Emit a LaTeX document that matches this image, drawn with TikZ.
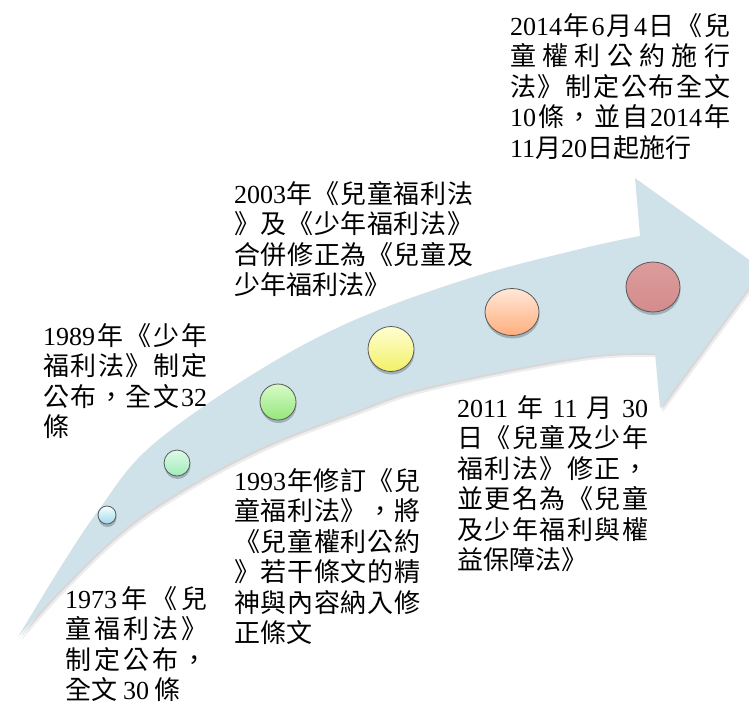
\documentclass[tikz,border=0pt]{standalone}
\usepackage{fontspec}
\usetikzlibrary{shapes.geometric,shadows}
\newfontfamily\cjk{Noto Sans CJK TC}
\newfontfamily\lat{Liberation Serif}
\definecolor{arrowblue}{HTML}{CFE2EA}
\def\Jstopm{\Jstop}
\def\J#1{\hbox to\hsize{\Jfirst#1|\Jstop|}}
\def\Jfirst#1|{{#1}\Jaux}
\def\Jaux#1|{\def\Jtmp{#1}\ifx\Jtmp\Jstopm\else\hfil{#1}\expandafter\Jaux\fi}
\def\N#1{\hbox{#1}}
\newcommand\blk[2]{\vtop{\hsize=#1pt\cjk\fontsize{26}{30.5}\selectfont\baselineskip=30.5pt\lineskiplimit=-100pt\lineskip=0pt\parindent=0pt #2}}
\newcommand\arrowshape[1]{\fill[#1] plot[smooth, tension=0.6] coordinates {(18,637) (60,568) (100,508) (150,447) (250,376) (350,322) (470,278) (580,249) (640,236)} -- (635,178) -- (762,269) -- (660,408) -- (655,353) -- plot[smooth, tension=0.6] coordinates {(655,353) (580,357) (427,387) (350,413) (267,445) (190,485) (123,530) (60,590) (18,637)} -- cycle;}
\tikzset{
  dot/.style={ellipse, draw=black!65, line width=0.8pt, inner sep=0pt,
    drop shadow={shadow xshift=0.5pt, shadow yshift=-3pt, opacity=0.22, fill=black}},
  txt/.style={anchor=base west, inner sep=0pt}
}
\begin{document}
\begin{tikzpicture}[x=1pt,y=-1pt]
\useasboundingbox (0,0) rectangle (749,705);
\begin{scope}
\clip (0,0) rectangle (749,705);
\begin{scope}[shift={(3,4)}]\arrowshape{black,opacity=0.07}\end{scope}
\begin{scope}[shift={(1.5,2)}]\arrowshape{black,opacity=0.09}\end{scope}
\arrowshape{arrowblue}
\end{scope}
% circles
\node[dot, minimum width=18pt, minimum height=18pt, top color=white!80!cyan!20, bottom color={rgb,255:red,160;green,216;blue,238}] (c1) at (107,515) {};
\node[dot, minimum width=26pt, minimum height=26pt, top color={rgb,255:red,222;green,250;blue,232}, bottom color={rgb,255:red,160;green,236;blue,186}] (c2) at (177,463) {};
\node[dot, minimum width=36pt, minimum height=36pt, top color={rgb,255:red,215;green,250;blue,200}, bottom color={rgb,255:red,148;green,231;blue,124}] (c3) at (278,402) {};
\node[dot, minimum width=46pt, minimum height=45pt, top color={rgb,255:red,255;green,255;blue,210}, bottom color={rgb,255:red,243;green,240;blue,104}] (c4) at (391,349) {};
\node[dot, minimum width=54pt, minimum height=47pt, top color={rgb,255:red,255;green,232;blue,216}, bottom color={rgb,255:red,255;green,174;blue,124}] (c5) at (512,312) {};
\node[dot, minimum width=54pt, minimum height=50pt, top color={rgb,255:red,220;green,156;blue,155}, bottom color={rgb,255:red,211;green,140;blue,139}] (c6) at (653,287) {};
% texts
\node[txt] (tA) at (510,35) {\blk{220}{%
\J{\lat 2014|年|\lat 6|月|\lat 4|日|《|兒}
\J{童|權|利|公|約|施|行}
\J{法|》|制|定|公|布|全|文}
\J{\lat 10|條|，|並|自|\lat 2014|年}
\N{{\lat 11}月{\lat 20}日起施行}}};
\node[txt] (tB) at (234,203) {\blk{239}{%
\J{\lat 2003|年|《|兒|童|福|利|法}
\J{》|及|《|少|年|福|利|法|》}
\J{合|併|修|正|為|《|兒|童|及}
\N{少年福利法》}}};
\node[txt] (tC) at (43,345) {\blk{164}{%
\J{\lat 1989|年|《|少|年}
\J{福|利|法|》|制|定}
\J{公|布|，|全|文|\lat 32}
\N{條}}};
\node[txt] (tD) at (234,490) {\blk{186}{%
\J{\lat 1993|年|修|訂|《|兒}
\J{童|福|利|法|》|，|將}
\J{《|兒|童|權|利|公|約}
\J{》|若|干|條|文|的|精}
\J{神|與|內|容|納|入|修}
\N{正條文}}};
\node[txt] (tE) at (457,417) {\blk{191}{%
\J{\lat 2011|年|\lat 11|月|\lat 30}
\J{日|《|兒|童|及|少|年}
\J{福|利|法|》|修|正|，}
\J{並|更|名|為|《|兒|童}
\J{及|少|年|福|利|與|權}
\N{益保障法》}}};
\node[txt] (tF) at (65,608) {\blk{142}{%
\J{\lat 1973|年|《|兒}
\J{童|福|利|法|》}
\J{制|定|公|布|，}
\N{全文 {\lat 30} 條}}};
\end{tikzpicture}
\end{document}
